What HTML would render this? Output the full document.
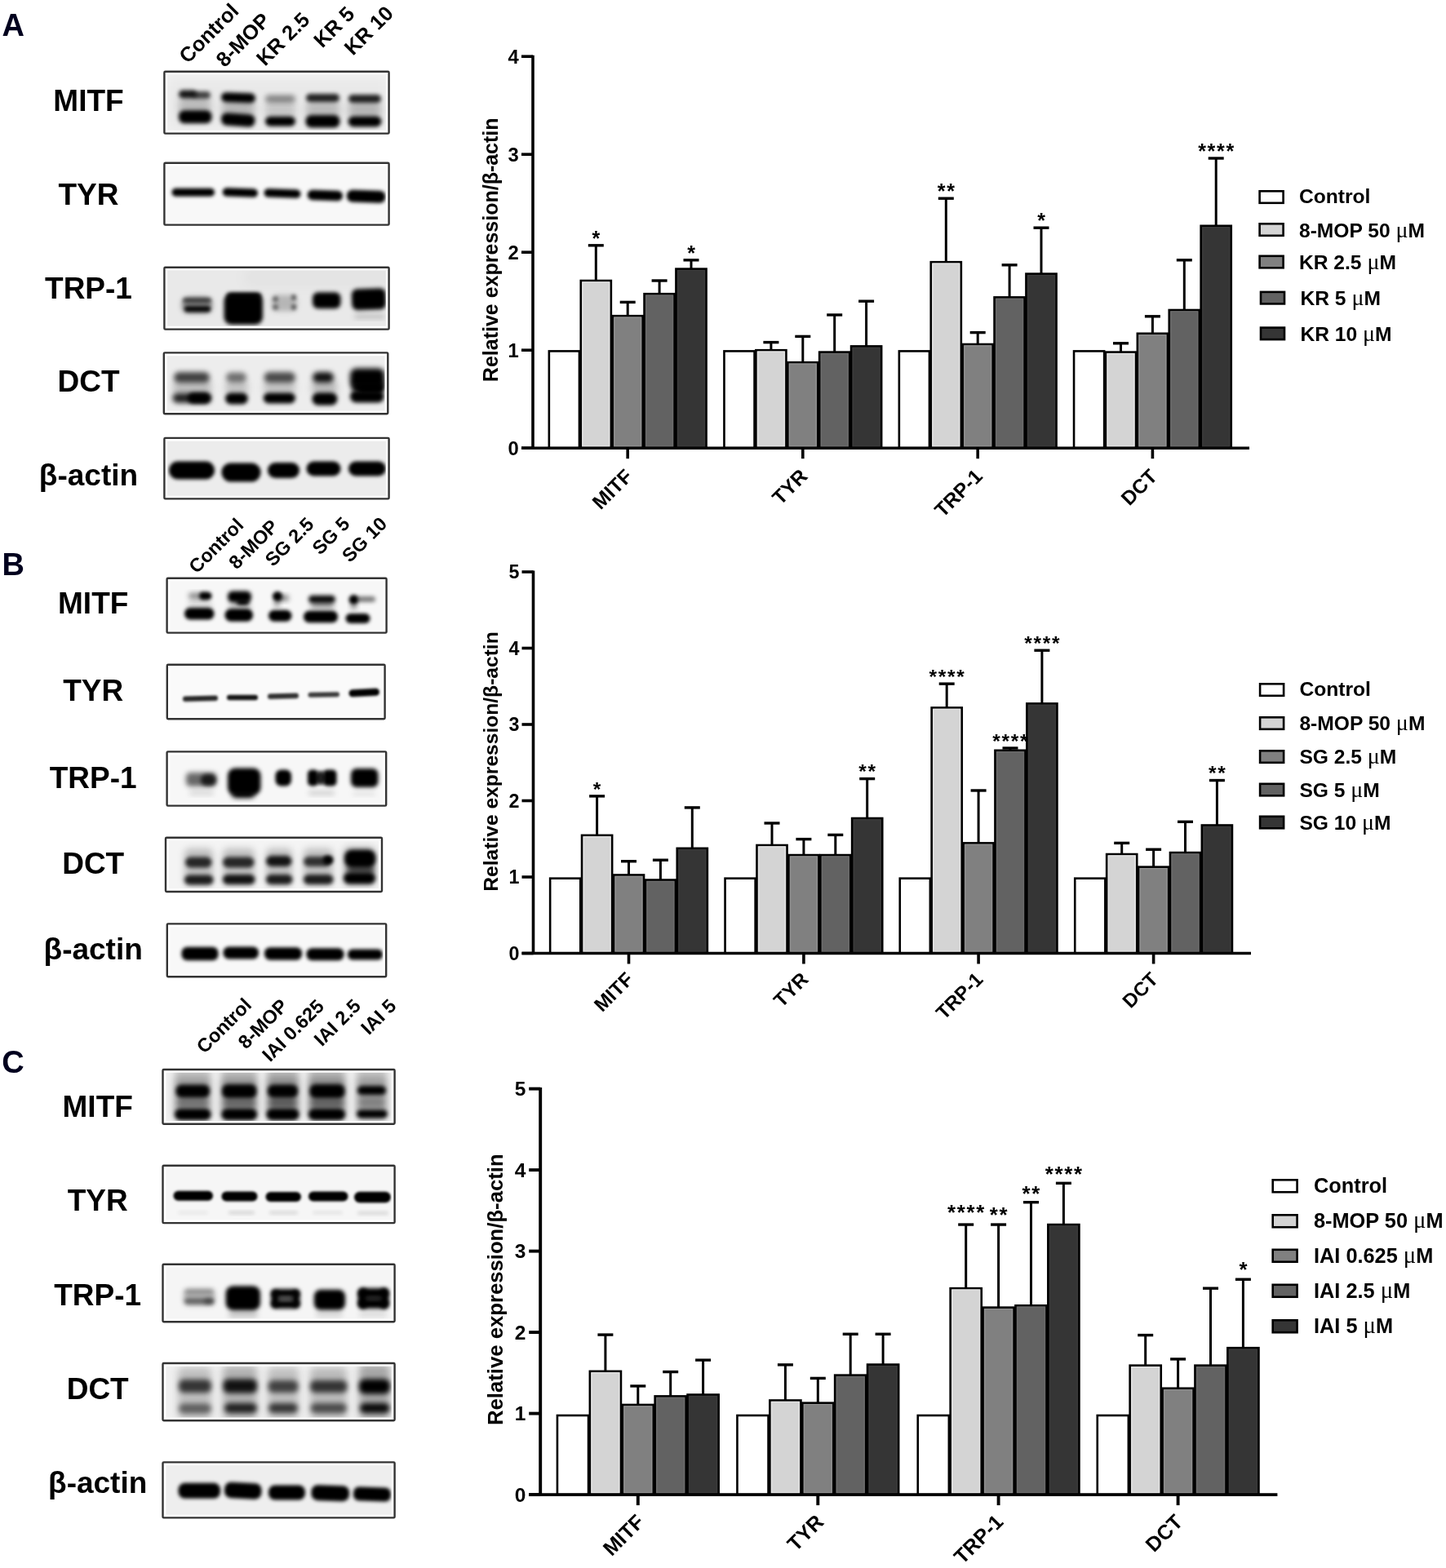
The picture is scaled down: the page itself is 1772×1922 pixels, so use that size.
<!DOCTYPE html><html><head><meta charset="utf-8"><title>figure</title><style>html,body{margin:0;padding:0;background:#fff;}svg{display:block;}text{font-family:"Liberation Sans", Arial, sans-serif;}</style></head><body>
<svg width="1772" height="1922" viewBox="0 0 1772 1922">
<defs>
<filter id="b1_5" x="-60%" y="-60%" width="220%" height="220%"><feGaussianBlur stdDeviation="1.5"/></filter>
<filter id="b1_8" x="-60%" y="-60%" width="220%" height="220%"><feGaussianBlur stdDeviation="1.8"/></filter>
<filter id="b2" x="-60%" y="-60%" width="220%" height="220%"><feGaussianBlur stdDeviation="2"/></filter>
<filter id="b2_2" x="-60%" y="-60%" width="220%" height="220%"><feGaussianBlur stdDeviation="2.2"/></filter>
<filter id="b2_3" x="-60%" y="-60%" width="220%" height="220%"><feGaussianBlur stdDeviation="2.3"/></filter>
<filter id="b2_5" x="-60%" y="-60%" width="220%" height="220%"><feGaussianBlur stdDeviation="2.5"/></filter>
<filter id="b2_8" x="-60%" y="-60%" width="220%" height="220%"><feGaussianBlur stdDeviation="2.8"/></filter>
<filter id="b3" x="-60%" y="-60%" width="220%" height="220%"><feGaussianBlur stdDeviation="3"/></filter>
<filter id="b4" x="-60%" y="-60%" width="220%" height="220%"><feGaussianBlur stdDeviation="4"/></filter>
<filter id="b5" x="-60%" y="-60%" width="220%" height="220%"><feGaussianBlur stdDeviation="5"/></filter>
<filter id="b8" x="-60%" y="-60%" width="220%" height="220%"><feGaussianBlur stdDeviation="8"/></filter>
</defs>
<rect width="1772" height="1922" fill="#fff"/>
<text x="2.4" y="43.9" font-size="38" text-anchor="start" font-weight="bold" fill="#00001e">A</text>
<text x="2.4" y="705.3" font-size="38" text-anchor="start" font-weight="bold" fill="#00001e">B</text>
<text x="2.3" y="1315.4" font-size="38" text-anchor="start" font-weight="bold" fill="#00001e">C</text>
<text x="108.5" y="136.3" font-size="37" text-anchor="middle" font-weight="bold" fill="#000">MITF</text>
<text x="108.5" y="250.6" font-size="37" text-anchor="middle" font-weight="bold" fill="#000">TYR</text>
<text x="108.5" y="366.3" font-size="37" text-anchor="middle" font-weight="bold" fill="#000">TRP-1</text>
<text x="108.5" y="480" font-size="37" text-anchor="middle" font-weight="bold" fill="#000">DCT</text>
<text x="108.5" y="594.9" font-size="37" text-anchor="middle" font-weight="bold" fill="#000">&#946;-actin</text>
<text x="114.2" y="752" font-size="37" text-anchor="middle" font-weight="bold" fill="#000">MITF</text>
<text x="114.2" y="859.3" font-size="37" text-anchor="middle" font-weight="bold" fill="#000">TYR</text>
<text x="114.2" y="965.5" font-size="37" text-anchor="middle" font-weight="bold" fill="#000">TRP-1</text>
<text x="114.2" y="1070.7" font-size="37" text-anchor="middle" font-weight="bold" fill="#000">DCT</text>
<text x="114.2" y="1176" font-size="37" text-anchor="middle" font-weight="bold" fill="#000">&#946;-actin</text>
<text x="119.7" y="1369.4" font-size="37" text-anchor="middle" font-weight="bold" fill="#000">MITF</text>
<text x="119.7" y="1484.3" font-size="37" text-anchor="middle" font-weight="bold" fill="#000">TYR</text>
<text x="119.7" y="1600.4" font-size="37" text-anchor="middle" font-weight="bold" fill="#000">TRP-1</text>
<text x="119.7" y="1714.7" font-size="37" text-anchor="middle" font-weight="bold" fill="#000">DCT</text>
<text x="119.7" y="1830.4" font-size="37" text-anchor="middle" font-weight="bold" fill="#000">&#946;-actin</text>
<text x="230" y="79" font-size="25.5" text-anchor="start" font-weight="bold" fill="#000" transform="rotate(-45 230 79)">Control</text>
<text x="275.3" y="83.5" font-size="25.5" text-anchor="start" font-weight="bold" fill="#000" transform="rotate(-45 275.3 83.5)">8-MOP</text>
<text x="324.8" y="82" font-size="25.5" text-anchor="start" font-weight="bold" fill="#000" transform="rotate(-45 324.8 82)">KR 2.5</text>
<text x="395" y="59.7" font-size="25.5" text-anchor="start" font-weight="bold" fill="#000" transform="rotate(-45 395 59.7)">KR 5</text>
<text x="432.5" y="69" font-size="25.5" text-anchor="start" font-weight="bold" fill="#000" transform="rotate(-45 432.5 69)">KR 10</text>
<text x="241" y="704" font-size="23.4" text-anchor="start" font-weight="bold" fill="#000" transform="rotate(-45 241 704)">Control</text>
<text x="290" y="699" font-size="23.4" text-anchor="start" font-weight="bold" fill="#000" transform="rotate(-45 290 699)">8-MOP</text>
<text x="334.5" y="695.5" font-size="23.4" text-anchor="start" font-weight="bold" fill="#000" transform="rotate(-45 334.5 695.5)">SG 2.5</text>
<text x="392.2" y="681.2" font-size="23.4" text-anchor="start" font-weight="bold" fill="#000" transform="rotate(-45 392.2 681.2)">SG 5</text>
<text x="428.7" y="690.5" font-size="23.4" text-anchor="start" font-weight="bold" fill="#000" transform="rotate(-45 428.7 690.5)">SG 10</text>
<text x="250.5" y="1292.5" font-size="23.5" text-anchor="start" font-weight="bold" fill="#000" transform="rotate(-45 250.5 1292.5)">Control</text>
<text x="301.5" y="1287" font-size="23.5" text-anchor="start" font-weight="bold" fill="#000" transform="rotate(-45 301.5 1287)">8-MOP</text>
<text x="331" y="1302.5" font-size="23.5" text-anchor="start" font-weight="bold" fill="#000" transform="rotate(-45 331 1302.5)">IAI 0.625</text>
<text x="394.5" y="1283.5" font-size="23.5" text-anchor="start" font-weight="bold" fill="#000" transform="rotate(-45 394.5 1283.5)">IAI 2.5</text>
<text x="452" y="1269.5" font-size="23.5" text-anchor="start" font-weight="bold" fill="#000" transform="rotate(-45 452 1269.5)">IAI 5</text>
<g>
<rect x="200.2" y="86.5" width="277.6" height="78.3" fill="#fff"/>
<rect x="205.2" y="91.5" width="267.6" height="68.3" fill="#f1f1f1"/>
<clipPath id="cp1"><rect x="205.2" y="91.5" width="267.6" height="68.3"/></clipPath>
<g clip-path="url(#cp1)">
<rect x="219" y="118" width="39" height="24" rx="6" fill="#000" fill-opacity="0.2" filter="url(#b5)"/>
<rect x="272" y="122" width="40" height="22" rx="6" fill="#000" fill-opacity="0.22" filter="url(#b5)"/>
<rect x="325" y="123" width="37" height="23" rx="6" fill="#000" fill-opacity="0.15" filter="url(#b5)"/>
<rect x="375" y="123" width="41" height="23" rx="6" fill="#000" fill-opacity="0.2" filter="url(#b5)"/>
<rect x="427" y="123" width="40" height="23" rx="6" fill="#000" fill-opacity="0.22" filter="url(#b5)"/>
<rect x="205" y="95" width="270" height="65" rx="6" fill="#000" fill-opacity="0.03" filter="url(#b8)"/>
<rect x="219" y="110.5" width="22" height="10" rx="5" ry="5" fill="#000" fill-opacity="0.9" filter="url(#b2_8)"/>
<rect x="236" y="112" width="22" height="9" rx="4.5" ry="4.5" fill="#000" fill-opacity="0.7" filter="url(#b2_8)"/>
<rect x="271" y="113.7" width="42" height="12" rx="6" ry="6" fill="#000" fill-opacity="1" filter="url(#b2_5)" transform="rotate(2 292 119.7)"/>
<rect x="325" y="116.5" width="37" height="9" rx="4.5" ry="4.5" fill="#000" fill-opacity="0.42" filter="url(#b3)"/>
<rect x="375" y="115" width="41" height="10" rx="5" ry="5" fill="#000" fill-opacity="0.85" filter="url(#b2_8)"/>
<rect x="427" y="116" width="40" height="10" rx="5" ry="5" fill="#000" fill-opacity="0.85" filter="url(#b2_8)"/>
<rect x="219" y="135.2" width="40.5" height="16" rx="7" ry="7" fill="#000" fill-opacity="1" filter="url(#b2_5)"/>
<rect x="271" y="139.25" width="41.5" height="15.5" rx="7" ry="7" fill="#000" fill-opacity="1" filter="url(#b2_5)" transform="rotate(4 291.75 147)"/>
<rect x="325" y="142.7" width="37" height="12" rx="6" ry="6" fill="#000" fill-opacity="1" filter="url(#b2_5)"/>
<rect x="374.5" y="140.95" width="42" height="15.5" rx="7" ry="7" fill="#000" fill-opacity="1" filter="url(#b2_5)"/>
<rect x="426.6" y="142.5" width="40.9" height="13" rx="6.5" ry="6.5" fill="#000" fill-opacity="1" filter="url(#b2_5)"/>
</g>
<rect x="201.4" y="87.7" width="275.2" height="75.9" fill="none" stroke="#333" stroke-width="2.4" rx="1.2"/>
</g>
<g>
<rect x="200.2" y="198.5" width="277.6" height="78.3" fill="#fff"/>
<rect x="205.2" y="203.5" width="267.6" height="68.3" fill="#f8f8f8"/>
<clipPath id="cp2"><rect x="205.2" y="203.5" width="267.6" height="68.3"/></clipPath>
<g clip-path="url(#cp2)">
<rect x="210.5" y="230.7" width="52.5" height="10" rx="5" ry="5" fill="#000" fill-opacity="1" filter="url(#b2)"/>
<rect x="272.7" y="230.75" width="43.3" height="10.5" rx="5.25" ry="5.25" fill="#000" fill-opacity="1" filter="url(#b2)" transform="rotate(2 294.35 236)"/>
<rect x="323.5" y="231.75" width="45" height="10.5" rx="5.25" ry="5.25" fill="#000" fill-opacity="1" filter="url(#b2)" transform="rotate(2 346 237)"/>
<rect x="376.7" y="233.25" width="43.3" height="12.5" rx="6.25" ry="6.25" fill="#000" fill-opacity="1" filter="url(#b2)" transform="rotate(2 398.35 239.5)"/>
<rect x="425" y="233.3" width="47.4" height="15" rx="7" ry="7" fill="#000" fill-opacity="1" filter="url(#b2)" transform="rotate(2 448.7 240.8)"/>
</g>
<rect x="201.4" y="199.7" width="275.2" height="75.9" fill="none" stroke="#333" stroke-width="2.4" rx="1.2"/>
</g>
<g>
<rect x="200.2" y="326.5" width="277.6" height="78.3" fill="#fff"/>
<rect x="205.2" y="331.5" width="267.6" height="68.3" fill="#e9e9e9"/>
<clipPath id="cp3"><rect x="205.2" y="331.5" width="267.6" height="68.3"/></clipPath>
<g clip-path="url(#cp3)">
<rect x="300" y="330" width="180" height="20" rx="6" fill="#000" fill-opacity="0.03" filter="url(#b8)"/>
<rect x="223" y="364" width="37" height="20" rx="8" ry="8" fill="#000" fill-opacity="0.45" filter="url(#b3)"/>
<rect x="224" y="365" width="35" height="6" rx="3" ry="3" fill="#000" fill-opacity="0.55" filter="url(#b2)"/>
<rect x="226" y="375.3" width="32" height="7" rx="3.5" ry="3.5" fill="#000" fill-opacity="0.95" filter="url(#b2)"/>
<rect x="274.5" y="360" width="47.5" height="38" rx="9" ry="9" fill="#000" fill-opacity="1" filter="url(#b2_5)"/>
<rect x="278" y="359" width="42" height="8" rx="4" ry="4" fill="#000" fill-opacity="1" filter="url(#b2_5)"/>
<rect x="333" y="361.5" width="31" height="20" rx="6" ry="6" fill="#000" fill-opacity="0.22" filter="url(#b3)"/>
<rect x="334" y="363" width="7" height="7" rx="3.5" ry="3.5" fill="#000" fill-opacity="0.45" filter="url(#b2)"/>
<rect x="334" y="373" width="7" height="7" rx="3.5" ry="3.5" fill="#000" fill-opacity="0.45" filter="url(#b2)"/>
<rect x="357" y="361" width="6" height="7" rx="3" ry="3.5" fill="#000" fill-opacity="0.55" filter="url(#b2)"/>
<rect x="357" y="373" width="6" height="7" rx="3" ry="3.5" fill="#000" fill-opacity="0.55" filter="url(#b2)"/>
<rect x="383" y="358.3" width="34.5" height="20" rx="7" ry="7" fill="#000" fill-opacity="1" filter="url(#b2_5)"/>
<rect x="431" y="353.7" width="42" height="26" rx="7" ry="7" fill="#000" fill-opacity="1" filter="url(#b2_5)" transform="rotate(-2 452 366.7)"/>
<rect x="434" y="385.5" width="38" height="5" rx="2.5" ry="2.5" fill="#000" fill-opacity="0.2" filter="url(#b3)"/>
</g>
<rect x="201.4" y="327.7" width="275.2" height="75.9" fill="none" stroke="#333" stroke-width="2.4" rx="1.2"/>
</g>
<g>
<rect x="199.6" y="431.2" width="276.9" height="77.3" fill="#fff"/>
<rect x="204.6" y="436.2" width="266.9" height="67.3" fill="#ededed"/>
<clipPath id="cp4"><rect x="204.6" y="436.2" width="266.9" height="67.3"/></clipPath>
<g clip-path="url(#cp4)">
<rect x="212" y="466" width="47" height="18" rx="6" fill="#000" fill-opacity="0.2" filter="url(#b4)"/>
<rect x="276" y="466" width="28" height="18" rx="6" fill="#000" fill-opacity="0.18" filter="url(#b4)"/>
<rect x="323" y="466" width="39" height="18" rx="6" fill="#000" fill-opacity="0.18" filter="url(#b4)"/>
<rect x="382" y="466" width="31" height="18" rx="6" fill="#000" fill-opacity="0.22" filter="url(#b4)"/>
<rect x="213" y="456.1" width="44" height="13" rx="6.5" ry="6.5" fill="#000" fill-opacity="0.72" filter="url(#b3)"/>
<rect x="277" y="456.6" width="25" height="12" rx="6" ry="6" fill="#000" fill-opacity="0.52" filter="url(#b3)"/>
<rect x="323.5" y="456.1" width="38.5" height="13" rx="6.5" ry="6.5" fill="#000" fill-opacity="0.68" filter="url(#b3)"/>
<rect x="383" y="456.1" width="26" height="13" rx="6.5" ry="6.5" fill="#000" fill-opacity="0.92" filter="url(#b3)"/>
<rect x="429" y="451.5" width="42.6" height="24" rx="8" ry="8" fill="#000" fill-opacity="1" filter="url(#b3)"/>
<rect x="211.4" y="482" width="47.4" height="12" rx="6" ry="6" fill="#000" fill-opacity="0.85" filter="url(#b3)"/>
<rect x="230" y="481.5" width="28" height="13" rx="6.5" ry="6.5" fill="#000" fill-opacity="1" filter="url(#b2_5)"/>
<rect x="276" y="481.5" width="27.8" height="14" rx="7" ry="7" fill="#000" fill-opacity="1" filter="url(#b2_5)"/>
<rect x="322.7" y="481.5" width="39.3" height="13" rx="6.5" ry="6.5" fill="#000" fill-opacity="1" filter="url(#b2_5)"/>
<rect x="382.4" y="481.25" width="31.1" height="15.5" rx="7.75" ry="7.75" fill="#000" fill-opacity="1" filter="url(#b2_5)"/>
<rect x="429" y="478.5" width="41.8" height="15" rx="7.5" ry="7.5" fill="#000" fill-opacity="1" filter="url(#b2_5)"/>
<rect x="431" y="467" width="39" height="14" rx="7" ry="7" fill="#000" fill-opacity="1" filter="url(#b3)"/>
<rect x="438" y="470" width="32" height="12" rx="6" ry="6" fill="#000" fill-opacity="1" filter="url(#b2_5)"/>
</g>
<rect x="200.8" y="432.4" width="274.5" height="74.9" fill="none" stroke="#333" stroke-width="2.4" rx="1.2"/>
</g>
<g>
<rect x="200.2" y="535.7" width="277.6" height="76.9" fill="#fff"/>
<rect x="205.2" y="540.7" width="267.6" height="66.9" fill="#ececec"/>
<clipPath id="cp5"><rect x="205.2" y="540.7" width="267.6" height="66.9"/></clipPath>
<g clip-path="url(#cp5)">
<rect x="207" y="565.5" width="56" height="22" rx="11" ry="11" fill="#000" fill-opacity="1" filter="url(#b2)"/>
<rect x="271.5" y="567.5" width="48" height="23" rx="11.5" ry="11.5" fill="#000" fill-opacity="1" filter="url(#b2)"/>
<rect x="328" y="567" width="39" height="19" rx="9.5" ry="9.5" fill="#000" fill-opacity="1" filter="url(#b2)"/>
<rect x="375.5" y="565.5" width="42" height="18" rx="9" ry="9" fill="#000" fill-opacity="1" filter="url(#b2)"/>
<rect x="427" y="565.5" width="46" height="18" rx="9" ry="9" fill="#000" fill-opacity="1" filter="url(#b2)"/>
</g>
<rect x="201.4" y="536.9" width="275.2" height="74.5" fill="none" stroke="#333" stroke-width="2.4" rx="1.2"/>
</g>
<g>
<rect x="203.4" y="707.5" width="271.4" height="69.3" fill="#fff"/>
<rect x="208.4" y="712.5" width="261.4" height="59.3" fill="#f7f7f7"/>
<clipPath id="cp6"><rect x="208.4" y="712.5" width="261.4" height="59.3"/></clipPath>
<g clip-path="url(#cp6)">
<rect x="230" y="736" width="30" height="12" rx="6" fill="#000" fill-opacity="0.12" filter="url(#b3)"/>
<rect x="280" y="738" width="28" height="12" rx="6" fill="#000" fill-opacity="0.2" filter="url(#b3)"/>
<rect x="380" y="739" width="30" height="13" rx="6" fill="#000" fill-opacity="0.15" filter="url(#b3)"/>
<rect x="231" y="726.75" width="19" height="7.5" rx="3.75" ry="3.75" fill="#000" fill-opacity="0.45" filter="url(#b3)"/>
<rect x="244" y="725.5" width="15.5" height="10" rx="5" ry="5" fill="#000" fill-opacity="1" filter="url(#b2_2)"/>
<rect x="279" y="724.5" width="29" height="14" rx="6" ry="6" fill="#000" fill-opacity="1" filter="url(#b2_5)"/>
<rect x="290" y="734.5" width="15" height="7" rx="3.5" ry="3.5" fill="#000" fill-opacity="1" filter="url(#b2_5)"/>
<rect x="334" y="725" width="12" height="12" rx="6" ry="6" fill="#000" fill-opacity="1" filter="url(#b2_2)"/>
<rect x="338" y="729.5" width="16" height="7" rx="3.5" ry="3.5" fill="#000" fill-opacity="0.5" filter="url(#b3)"/>
<rect x="336" y="737" width="7" height="6" rx="3" ry="3" fill="#000" fill-opacity="0.55" filter="url(#b3)"/>
<rect x="378" y="729.75" width="33" height="9.5" rx="4.75" ry="4.75" fill="#000" fill-opacity="0.95" filter="url(#b2_5)"/>
<rect x="381" y="737" width="28" height="6" rx="3" ry="3" fill="#000" fill-opacity="0.4" filter="url(#b3)"/>
<rect x="427.5" y="729" width="12" height="12" rx="6" ry="6" fill="#000" fill-opacity="1" filter="url(#b2_2)"/>
<rect x="437" y="731" width="23" height="7" rx="3.5" ry="3.5" fill="#000" fill-opacity="0.5" filter="url(#b2_5)"/>
<rect x="430" y="740" width="7" height="6" rx="3" ry="3" fill="#000" fill-opacity="0.6" filter="url(#b3)"/>
<rect x="226" y="744.95" width="36.5" height="14.5" rx="7" ry="7" fill="#000" fill-opacity="1" filter="url(#b2_3)"/>
<rect x="275.5" y="746.25" width="34.5" height="15.5" rx="7.5" ry="7.5" fill="#000" fill-opacity="1" filter="url(#b2_3)"/>
<rect x="329" y="747.8" width="28.5" height="14" rx="7" ry="7" fill="#000" fill-opacity="1" filter="url(#b2_3)"/>
<rect x="372" y="748.75" width="42" height="14.5" rx="7" ry="7" fill="#000" fill-opacity="1" filter="url(#b2_3)"/>
<rect x="423.5" y="752" width="30" height="12" rx="6" ry="6" fill="#000" fill-opacity="1" filter="url(#b2_3)"/>
</g>
<rect x="204.6" y="708.7" width="269" height="66.9" fill="none" stroke="#333" stroke-width="2.4" rx="1.2"/>
</g>
<g>
<rect x="203.6" y="813.6" width="269.2" height="68.8" fill="#fff"/>
<rect x="208.6" y="818.6" width="259.2" height="58.8" fill="#fafafa"/>
<clipPath id="cp7"><rect x="208.6" y="818.6" width="259.2" height="58.8"/></clipPath>
<g clip-path="url(#cp7)">
<rect x="224" y="852.95" width="43" height="6.5" rx="3.25" ry="3.25" fill="#000" fill-opacity="0.85" filter="url(#b1_5)" transform="rotate(-1.5 245.5 856.2)"/>
<rect x="278" y="851.75" width="38" height="6.5" rx="3.25" ry="3.25" fill="#000" fill-opacity="0.92" filter="url(#b1_5)"/>
<rect x="328" y="850.05" width="38" height="6.5" rx="3.25" ry="3.25" fill="#000" fill-opacity="0.82" filter="url(#b1_5)" transform="rotate(-1.5 347 853.3)"/>
<rect x="377.5" y="848.4" width="38.5" height="6" rx="3" ry="3" fill="#000" fill-opacity="0.78" filter="url(#b1_5)" transform="rotate(-1 396.75 851.4)"/>
<rect x="427.5" y="844.5" width="37.5" height="9" rx="4.5" ry="4.5" fill="#000" fill-opacity="1" filter="url(#b1_5)" transform="rotate(-3 446.25 849)"/>
</g>
<rect x="204.8" y="814.8" width="266.8" height="66.4" fill="none" stroke="#333" stroke-width="2.4" rx="1.2"/>
</g>
<g>
<rect x="203.4" y="920.2" width="271" height="68.6" fill="#fff"/>
<rect x="208.4" y="925.2" width="261" height="58.6" fill="#f7f7f7"/>
<clipPath id="cp8"><rect x="208.4" y="925.2" width="261" height="58.6"/></clipPath>
<g clip-path="url(#cp8)">
<rect x="228" y="947" width="37" height="17" rx="5" ry="5" fill="#000" fill-opacity="0.58" filter="url(#b3)"/>
<rect x="246" y="949" width="19" height="14" rx="7" ry="7" fill="#000" fill-opacity="0.75" filter="url(#b2_5)"/>
<rect x="279" y="941.5" width="40.5" height="33" rx="9" ry="9" fill="#000" fill-opacity="1" filter="url(#b2_5)"/>
<rect x="284" y="968" width="28" height="10" rx="5" ry="5" fill="#000" fill-opacity="1" filter="url(#b3)"/>
<rect x="337.5" y="943.5" width="19.5" height="20" rx="7" ry="7" fill="#000" fill-opacity="1" filter="url(#b2_2)"/>
<rect x="377" y="943.5" width="13" height="20" rx="5" ry="5" fill="#000" fill-opacity="1" filter="url(#b2_2)"/>
<rect x="396" y="943.5" width="16.5" height="20" rx="5" ry="5" fill="#000" fill-opacity="1" filter="url(#b2_2)"/>
<rect x="386" y="945" width="14" height="17" rx="7" ry="8.5" fill="#000" fill-opacity="0.85" filter="url(#b2_2)"/>
<rect x="430" y="942" width="33.5" height="23" rx="7" ry="7" fill="#000" fill-opacity="1" filter="url(#b2_5)"/>
<rect x="232" y="969.5" width="30" height="5" rx="2.5" ry="2.5" fill="#000" fill-opacity="0.15" filter="url(#b3)"/>
<rect x="378" y="969.5" width="32" height="5" rx="2.5" ry="2.5" fill="#000" fill-opacity="0.18" filter="url(#b3)"/>
<rect x="432" y="971" width="28" height="4" rx="2" ry="2" fill="#000" fill-opacity="0.1" filter="url(#b3)"/>
</g>
<rect x="204.6" y="921.4" width="268.6" height="66.2" fill="none" stroke="#333" stroke-width="2.4" rx="1.2"/>
</g>
<g>
<rect x="201.8" y="1025.6" width="267.4" height="68.6" fill="#fff"/>
<rect x="206.8" y="1030.6" width="257.4" height="58.6" fill="#f4f4f4"/>
<clipPath id="cp9"><rect x="206.8" y="1030.6" width="257.4" height="58.6"/></clipPath>
<g clip-path="url(#cp9)">
<rect x="226" y="1040" width="35" height="46" rx="6" fill="#000" fill-opacity="0.22" filter="url(#b4)"/>
<rect x="273" y="1040" width="39" height="46" rx="6" fill="#000" fill-opacity="0.22" filter="url(#b4)"/>
<rect x="326" y="1040" width="32" height="46" rx="6" fill="#000" fill-opacity="0.22" filter="url(#b4)"/>
<rect x="372" y="1040" width="36" height="46" rx="6" fill="#000" fill-opacity="0.22" filter="url(#b4)"/>
<rect x="421" y="1038" width="39" height="48" rx="6" fill="#000" fill-opacity="0.25" filter="url(#b4)"/>
<rect x="227" y="1050.5" width="32.5" height="13" rx="6.5" ry="6.5" fill="#000" fill-opacity="0.8" filter="url(#b2_8)"/>
<rect x="273" y="1050.5" width="38.5" height="13" rx="6.5" ry="6.5" fill="#000" fill-opacity="0.8" filter="url(#b2_8)"/>
<rect x="326" y="1049" width="31.5" height="13" rx="6.5" ry="6.5" fill="#000" fill-opacity="0.9" filter="url(#b2_8)"/>
<rect x="372" y="1050" width="33" height="12" rx="6" ry="6" fill="#000" fill-opacity="0.75" filter="url(#b2_8)"/>
<rect x="396" y="1048.5" width="12.5" height="11" rx="5.5" ry="5.5" fill="#000" fill-opacity="1" filter="url(#b2_2)"/>
<rect x="422" y="1041.5" width="38.5" height="22" rx="9" ry="9" fill="#000" fill-opacity="1" filter="url(#b2_8)"/>
<rect x="425" y="1060" width="34" height="12" rx="6" ry="6" fill="#000" fill-opacity="0.6" filter="url(#b3)"/>
<rect x="226" y="1072.5" width="35.5" height="12" rx="6" ry="6" fill="#000" fill-opacity="0.85" filter="url(#b2_8)"/>
<rect x="273" y="1072" width="39.5" height="12" rx="6" ry="6" fill="#000" fill-opacity="0.9" filter="url(#b2_8)"/>
<rect x="326" y="1072" width="32.5" height="12" rx="6" ry="6" fill="#000" fill-opacity="0.85" filter="url(#b2_8)"/>
<rect x="372" y="1072" width="36.5" height="12" rx="6" ry="6" fill="#000" fill-opacity="0.85" filter="url(#b2_8)"/>
<rect x="421" y="1069.5" width="39" height="14" rx="7" ry="7" fill="#000" fill-opacity="1" filter="url(#b2_8)"/>
</g>
<rect x="203" y="1026.8" width="265" height="66.2" fill="none" stroke="#333" stroke-width="2.4" rx="1.2"/>
</g>
<g>
<rect x="203.6" y="1131.2" width="270.8" height="67.2" fill="#fff"/>
<rect x="208.6" y="1136.2" width="260.8" height="57.2" fill="#f8f8f8"/>
<clipPath id="cp10"><rect x="208.6" y="1136.2" width="260.8" height="57.2"/></clipPath>
<g clip-path="url(#cp10)">
<rect x="222.5" y="1160.75" width="45" height="16.5" rx="7" ry="7" fill="#000" fill-opacity="1" filter="url(#b2)"/>
<rect x="273.5" y="1160.5" width="43.5" height="15" rx="7" ry="7" fill="#000" fill-opacity="1" filter="url(#b2)"/>
<rect x="324" y="1161.25" width="46" height="15.5" rx="7" ry="7" fill="#000" fill-opacity="1" filter="url(#b2)"/>
<rect x="375.5" y="1162.2" width="46" height="15" rx="7" ry="7" fill="#000" fill-opacity="1" filter="url(#b2)"/>
<rect x="426" y="1163.5" width="43" height="13" rx="6" ry="6" fill="#000" fill-opacity="1" filter="url(#b2)"/>
</g>
<rect x="204.8" y="1132.4" width="268.4" height="64.8" fill="none" stroke="#333" stroke-width="2.4" rx="1.2"/>
</g>
<g>
<rect x="198.3" y="1309.8" width="286.5" height="69.2" fill="#fff"/>
<rect x="203.3" y="1314.8" width="276.5" height="59.2" fill="#f0f0f0"/>
<clipPath id="cp11"><rect x="203.3" y="1314.8" width="276.5" height="59.2"/></clipPath>
<g clip-path="url(#cp11)">
<rect x="214" y="1306" width="44" height="66" rx="6" fill="#000" fill-opacity="0.18" filter="url(#b4)"/>
<rect x="271" y="1306" width="44" height="66" rx="6" fill="#000" fill-opacity="0.2" filter="url(#b4)"/>
<rect x="327" y="1306" width="39" height="66" rx="6" fill="#000" fill-opacity="0.22" filter="url(#b4)"/>
<rect x="378" y="1306" width="45" height="66" rx="6" fill="#000" fill-opacity="0.22" filter="url(#b4)"/>
<rect x="437" y="1306" width="37" height="66" rx="6" fill="#000" fill-opacity="0.18" filter="url(#b4)"/>
<rect x="214" y="1320" width="44" height="52" rx="6" fill="#000" fill-opacity="0.2" filter="url(#b4)"/>
<rect x="271" y="1320" width="44" height="52" rx="6" fill="#000" fill-opacity="0.22" filter="url(#b4)"/>
<rect x="327" y="1320" width="39" height="52" rx="6" fill="#000" fill-opacity="0.24" filter="url(#b4)"/>
<rect x="378" y="1320" width="45" height="52" rx="6" fill="#000" fill-opacity="0.24" filter="url(#b4)"/>
<rect x="437" y="1320" width="37" height="52" rx="6" fill="#000" fill-opacity="0.2" filter="url(#b4)"/>
<rect x="215.5" y="1329.5" width="41.5" height="16" rx="7" ry="7" fill="#000" fill-opacity="1" filter="url(#b2_5)"/>
<rect x="272" y="1329" width="42.5" height="17" rx="7" ry="7" fill="#000" fill-opacity="1" filter="url(#b2_5)"/>
<rect x="328" y="1329.5" width="37" height="16" rx="7" ry="7" fill="#000" fill-opacity="1" filter="url(#b2_5)"/>
<rect x="379.5" y="1329" width="43" height="17" rx="7" ry="7" fill="#000" fill-opacity="1" filter="url(#b2_5)"/>
<rect x="438" y="1331.1" width="35" height="11" rx="5.5" ry="5.5" fill="#000" fill-opacity="1" filter="url(#b2_5)"/>
<rect x="217" y="1345.5" width="38" height="12" rx="6" ry="6" fill="#000" fill-opacity="0.28" filter="url(#b3)"/>
<rect x="274" y="1345.5" width="39" height="12" rx="6" ry="6" fill="#000" fill-opacity="0.32" filter="url(#b3)"/>
<rect x="330" y="1345.5" width="33" height="12" rx="6" ry="6" fill="#000" fill-opacity="0.36" filter="url(#b3)"/>
<rect x="381" y="1345.5" width="40" height="12" rx="6" ry="6" fill="#000" fill-opacity="0.32" filter="url(#b3)"/>
<rect x="440" y="1345" width="31" height="12" rx="6" ry="6" fill="#000" fill-opacity="0.18" filter="url(#b3)"/>
<rect x="214" y="1359" width="44.5" height="14" rx="7" ry="7" fill="#000" fill-opacity="1" filter="url(#b2_5)"/>
<rect x="271.5" y="1359" width="43.5" height="14" rx="7" ry="7" fill="#000" fill-opacity="1" filter="url(#b2_5)"/>
<rect x="326.5" y="1359" width="40" height="14" rx="7" ry="7" fill="#000" fill-opacity="1" filter="url(#b2_5)"/>
<rect x="378" y="1359" width="45" height="14" rx="7" ry="7" fill="#000" fill-opacity="1" filter="url(#b2_5)"/>
<rect x="437.2" y="1360.5" width="37.5" height="10" rx="5" ry="5" fill="#000" fill-opacity="1" filter="url(#b2_5)"/>
</g>
<rect x="199.5" y="1311" width="284.1" height="66.8" fill="none" stroke="#333" stroke-width="2.4" rx="1.2"/>
</g>
<g>
<rect x="198.3" y="1427.6" width="286.5" height="72.7" fill="#fff"/>
<rect x="203.3" y="1432.6" width="276.5" height="62.7" fill="#f6f6f6"/>
<clipPath id="cp12"><rect x="203.3" y="1432.6" width="276.5" height="62.7"/></clipPath>
<g clip-path="url(#cp12)">
<rect x="212.5" y="1459.8" width="48.5" height="12" rx="6" ry="6" fill="#000" fill-opacity="1" filter="url(#b1_8)"/>
<rect x="271.5" y="1460.5" width="44" height="12" rx="6" ry="6" fill="#000" fill-opacity="1" filter="url(#b1_8)"/>
<rect x="325.5" y="1461" width="43.5" height="12" rx="6" ry="6" fill="#000" fill-opacity="1" filter="url(#b1_8)"/>
<rect x="378" y="1460.5" width="48.5" height="12" rx="6" ry="6" fill="#000" fill-opacity="1" filter="url(#b1_8)"/>
<rect x="434" y="1460.75" width="45" height="13.5" rx="6.75" ry="6.75" fill="#000" fill-opacity="1" filter="url(#b1_8)"/>
<rect x="218" y="1484.5" width="37" height="4" rx="2" ry="2" fill="#000" fill-opacity="0.06" filter="url(#b2)"/>
<rect x="280" y="1484.5" width="32" height="4" rx="2" ry="2" fill="#000" fill-opacity="0.14" filter="url(#b2)"/>
<rect x="330" y="1484.5" width="35" height="4" rx="2" ry="2" fill="#000" fill-opacity="0.13" filter="url(#b2)"/>
<rect x="383" y="1484.5" width="37" height="4" rx="2" ry="2" fill="#000" fill-opacity="0.08" filter="url(#b2)"/>
<rect x="438" y="1485" width="38" height="4" rx="2" ry="2" fill="#000" fill-opacity="0.13" filter="url(#b2)"/>
</g>
<rect x="199.5" y="1428.8" width="284.1" height="70.3" fill="none" stroke="#333" stroke-width="2.4" rx="1.2"/>
</g>
<g>
<rect x="198.3" y="1548.6" width="286.5" height="72.8" fill="#fff"/>
<rect x="203.3" y="1553.6" width="276.5" height="62.8" fill="#f5f5f5"/>
<clipPath id="cp13"><rect x="203.3" y="1553.6" width="276.5" height="62.8"/></clipPath>
<g clip-path="url(#cp13)">
<rect x="225" y="1579.5" width="38.3" height="21" rx="6" ry="6" fill="#000" fill-opacity="0.28" filter="url(#b3)"/>
<rect x="226" y="1580" width="36" height="6" rx="3" ry="3" fill="#000" fill-opacity="0.2" filter="url(#b2_5)"/>
<rect x="226" y="1591.5" width="36" height="7" rx="3.5" ry="3.5" fill="#000" fill-opacity="0.45" filter="url(#b2_5)"/>
<rect x="250" y="1591" width="12" height="8" rx="4" ry="4" fill="#000" fill-opacity="0.3" filter="url(#b2_5)"/>
<rect x="276.6" y="1576.2" width="42.4" height="30" rx="9" ry="9" fill="#000" fill-opacity="1" filter="url(#b2_5)"/>
<rect x="332.3" y="1580" width="35" height="10" rx="5" ry="5" fill="#000" fill-opacity="1" filter="url(#b2_5)"/>
<rect x="332.3" y="1594" width="35" height="10" rx="5" ry="5" fill="#000" fill-opacity="1" filter="url(#b2_5)"/>
<rect x="332.3" y="1582" width="9.7" height="20" rx="5" ry="5" fill="#000" fill-opacity="1" filter="url(#b2_5)"/>
<rect x="358" y="1582" width="9.3" height="20" rx="5" ry="5" fill="#000" fill-opacity="1" filter="url(#b2_5)"/>
<rect x="340" y="1588" width="20" height="8" rx="4" ry="4" fill="#000" fill-opacity="0.6" filter="url(#b2_5)"/>
<rect x="384.8" y="1580.8" width="38.3" height="25" rx="8" ry="8" fill="#000" fill-opacity="1" filter="url(#b2_5)"/>
<rect x="438.9" y="1579" width="37.4" height="12" rx="6" ry="6" fill="#000" fill-opacity="1" filter="url(#b2_5)"/>
<rect x="438.9" y="1592" width="37.4" height="12" rx="6" ry="6" fill="#000" fill-opacity="1" filter="url(#b2_5)"/>
<rect x="438.9" y="1579" width="11.1" height="25" rx="6" ry="6" fill="#000" fill-opacity="1" filter="url(#b2_5)"/>
<rect x="466" y="1579" width="10.3" height="25" rx="6" ry="6" fill="#000" fill-opacity="1" filter="url(#b2_5)"/>
<rect x="448" y="1587.5" width="20" height="8" rx="4" ry="4" fill="#000" fill-opacity="0.7" filter="url(#b2_5)"/>
<rect x="280" y="1607" width="36" height="8" rx="4" ry="4" fill="#000" fill-opacity="0.2" filter="url(#b3)"/>
<rect x="387" y="1608" width="33" height="6" rx="3" ry="3" fill="#000" fill-opacity="0.15" filter="url(#b3)"/>
<rect x="440" y="1608" width="34" height="6" rx="3" ry="3" fill="#000" fill-opacity="0.12" filter="url(#b3)"/>
</g>
<rect x="199.5" y="1549.8" width="284.1" height="70.4" fill="none" stroke="#333" stroke-width="2.4" rx="1.2"/>
</g>
<g>
<rect x="198.3" y="1669.8" width="286.5" height="72.6" fill="#fff"/>
<rect x="203.3" y="1674.8" width="276.5" height="62.6" fill="#efefef"/>
<clipPath id="cp14"><rect x="203.3" y="1674.8" width="276.5" height="62.6"/></clipPath>
<g clip-path="url(#cp14)">
<rect x="218" y="1676" width="41" height="64" rx="6" fill="#000" fill-opacity="0.2" filter="url(#b5)"/>
<rect x="273" y="1674" width="42" height="66" rx="6" fill="#000" fill-opacity="0.26" filter="url(#b5)"/>
<rect x="328" y="1676" width="38" height="64" rx="6" fill="#000" fill-opacity="0.2" filter="url(#b5)"/>
<rect x="380" y="1676" width="45" height="64" rx="6" fill="#000" fill-opacity="0.22" filter="url(#b5)"/>
<rect x="440" y="1672" width="38" height="68" rx="6" fill="#000" fill-opacity="0.3" filter="url(#b5)"/>
<rect x="219" y="1691" width="40" height="16" rx="6" ry="6" fill="#000" fill-opacity="0.72" filter="url(#b3)"/>
<rect x="273.5" y="1690.5" width="41.5" height="17" rx="6" ry="6" fill="#000" fill-opacity="0.9" filter="url(#b3)"/>
<rect x="328.5" y="1692" width="37" height="15" rx="6" ry="6" fill="#000" fill-opacity="0.66" filter="url(#b3)"/>
<rect x="380" y="1692" width="45.5" height="15" rx="6" ry="6" fill="#000" fill-opacity="0.72" filter="url(#b3)"/>
<rect x="440" y="1690.5" width="38" height="18" rx="7" ry="7" fill="#000" fill-opacity="1" filter="url(#b3)"/>
<rect x="219" y="1720.5" width="40" height="12" rx="6" ry="6" fill="#000" fill-opacity="0.5" filter="url(#b3)"/>
<rect x="275" y="1720" width="40" height="12" rx="6" ry="6" fill="#000" fill-opacity="0.82" filter="url(#b3)"/>
<rect x="329" y="1720" width="36" height="12" rx="6" ry="6" fill="#000" fill-opacity="0.72" filter="url(#b3)"/>
<rect x="380.5" y="1720" width="44.5" height="12" rx="6" ry="6" fill="#000" fill-opacity="0.6" filter="url(#b3)"/>
<rect x="441" y="1720" width="36.5" height="12" rx="6" ry="6" fill="#000" fill-opacity="0.95" filter="url(#b3)"/>
</g>
<rect x="199.5" y="1671" width="284.1" height="70.2" fill="none" stroke="#333" stroke-width="2.4" rx="1.2"/>
</g>
<g>
<rect x="198.3" y="1791.2" width="286.5" height="70.4" fill="#fff"/>
<rect x="203.3" y="1796.2" width="276.5" height="60.4" fill="#eeeeee"/>
<clipPath id="cp15"><rect x="203.3" y="1796.2" width="276.5" height="60.4"/></clipPath>
<g clip-path="url(#cp15)">
<rect x="218.5" y="1817.8" width="51.5" height="19" rx="8" ry="8" fill="#000" fill-opacity="1" filter="url(#b2)"/>
<rect x="275" y="1817.45" width="45.5" height="19.5" rx="8" ry="8" fill="#000" fill-opacity="1" filter="url(#b2)" transform="rotate(3 297.75 1827.2)"/>
<rect x="329" y="1820.5" width="45" height="18" rx="8" ry="8" fill="#000" fill-opacity="1" filter="url(#b2)"/>
<rect x="381.5" y="1820.7" width="46.5" height="19" rx="8" ry="8" fill="#000" fill-opacity="1" filter="url(#b2)" transform="rotate(2 404.75 1830.2)"/>
<rect x="433" y="1823" width="46" height="17" rx="7" ry="7" fill="#000" fill-opacity="1" filter="url(#b2)" transform="rotate(2 456 1831.5)"/>
</g>
<rect x="199.5" y="1792.4" width="284.1" height="68" fill="none" stroke="#333" stroke-width="2.4" rx="1.2"/>
</g>
<rect x="672.85" y="430.4" width="37.1" height="118.8" fill="#ffffff" stroke="#000" stroke-width="2.6"/>
<rect x="711.75" y="344" width="37.1" height="205.2" fill="#d4d4d4" stroke="#000" stroke-width="2.6"/>
<rect x="714.05" y="345.9" width="32.5" height="200.9" fill="none" stroke="#e6e6e6" stroke-width="1.1"/>
<line x1="730.3" y1="344" x2="730.3" y2="300.8" stroke="#000" stroke-width="3"/>
<line x1="720.8" y1="300.8" x2="739.8" y2="300.8" stroke="#000" stroke-width="3.4"/>
<text x="731.15" y="300.5" font-size="25" text-anchor="middle" font-weight="bold" fill="#000" letter-spacing="1.7">*</text>
<rect x="750.65" y="387.2" width="37.1" height="162" fill="#808080" stroke="#000" stroke-width="2.6"/>
<rect x="752.95" y="389.1" width="32.5" height="157.7" fill="none" stroke="#929292" stroke-width="1.1"/>
<line x1="769.2" y1="387.2" x2="769.2" y2="370.4" stroke="#000" stroke-width="3"/>
<line x1="759.7" y1="370.4" x2="778.7" y2="370.4" stroke="#000" stroke-width="3.4"/>
<rect x="789.55" y="360.2" width="37.1" height="189" fill="#626262" stroke="#000" stroke-width="2.6"/>
<rect x="791.85" y="362.1" width="32.5" height="184.7" fill="none" stroke="#6e6e6e" stroke-width="1.1"/>
<line x1="808.1" y1="360.2" x2="808.1" y2="344" stroke="#000" stroke-width="3"/>
<line x1="798.6" y1="344" x2="817.6" y2="344" stroke="#000" stroke-width="3.4"/>
<rect x="828.45" y="329.6" width="37.1" height="219.6" fill="#353535" stroke="#000" stroke-width="2.6"/>
<rect x="830.75" y="331.5" width="32.5" height="215.3" fill="none" stroke="#3d3d3d" stroke-width="1.1"/>
<line x1="847" y1="329.6" x2="847" y2="318.8" stroke="#000" stroke-width="3"/>
<line x1="837.5" y1="318.8" x2="856.5" y2="318.8" stroke="#000" stroke-width="3.4"/>
<text x="847.85" y="318.5" font-size="25" text-anchor="middle" font-weight="bold" fill="#000" letter-spacing="1.7">*</text>
<rect x="887.45" y="430.4" width="37.1" height="118.8" fill="#ffffff" stroke="#000" stroke-width="2.6"/>
<rect x="926.35" y="429.2" width="37.1" height="120" fill="#d4d4d4" stroke="#000" stroke-width="2.6"/>
<rect x="928.65" y="431.1" width="32.5" height="115.7" fill="none" stroke="#e6e6e6" stroke-width="1.1"/>
<line x1="944.9" y1="429.2" x2="944.9" y2="419.6" stroke="#000" stroke-width="3"/>
<line x1="935.4" y1="419.6" x2="954.4" y2="419.6" stroke="#000" stroke-width="3.4"/>
<rect x="965.25" y="444.2" width="37.1" height="105" fill="#808080" stroke="#000" stroke-width="2.6"/>
<rect x="967.55" y="446.1" width="32.5" height="100.7" fill="none" stroke="#929292" stroke-width="1.1"/>
<line x1="983.8" y1="444.2" x2="983.8" y2="412.4" stroke="#000" stroke-width="3"/>
<line x1="974.3" y1="412.4" x2="993.3" y2="412.4" stroke="#000" stroke-width="3.4"/>
<rect x="1004.15" y="431.6" width="37.1" height="117.6" fill="#626262" stroke="#000" stroke-width="2.6"/>
<rect x="1006.45" y="433.5" width="32.5" height="113.3" fill="none" stroke="#6e6e6e" stroke-width="1.1"/>
<line x1="1022.7" y1="431.6" x2="1022.7" y2="386" stroke="#000" stroke-width="3"/>
<line x1="1013.2" y1="386" x2="1032.2" y2="386" stroke="#000" stroke-width="3.4"/>
<rect x="1043.05" y="424.4" width="37.1" height="124.8" fill="#353535" stroke="#000" stroke-width="2.6"/>
<rect x="1045.35" y="426.3" width="32.5" height="120.5" fill="none" stroke="#3d3d3d" stroke-width="1.1"/>
<line x1="1061.6" y1="424.4" x2="1061.6" y2="369.2" stroke="#000" stroke-width="3"/>
<line x1="1052.1" y1="369.2" x2="1071.1" y2="369.2" stroke="#000" stroke-width="3.4"/>
<rect x="1101.85" y="430.4" width="37.1" height="118.8" fill="#ffffff" stroke="#000" stroke-width="2.6"/>
<rect x="1140.75" y="321.2" width="37.1" height="228" fill="#d4d4d4" stroke="#000" stroke-width="2.6"/>
<rect x="1143.05" y="323.1" width="32.5" height="223.7" fill="none" stroke="#e6e6e6" stroke-width="1.1"/>
<line x1="1159.3" y1="321.2" x2="1159.3" y2="243.2" stroke="#000" stroke-width="3"/>
<line x1="1149.8" y1="243.2" x2="1168.8" y2="243.2" stroke="#000" stroke-width="3.4"/>
<text x="1160.15" y="242.9" font-size="25" text-anchor="middle" font-weight="bold" fill="#000" letter-spacing="1.7">**</text>
<rect x="1179.65" y="422" width="37.1" height="127.2" fill="#808080" stroke="#000" stroke-width="2.6"/>
<rect x="1181.95" y="423.9" width="32.5" height="122.9" fill="none" stroke="#929292" stroke-width="1.1"/>
<line x1="1198.2" y1="422" x2="1198.2" y2="407.6" stroke="#000" stroke-width="3"/>
<line x1="1188.7" y1="407.6" x2="1207.7" y2="407.6" stroke="#000" stroke-width="3.4"/>
<rect x="1218.55" y="364.4" width="37.1" height="184.8" fill="#626262" stroke="#000" stroke-width="2.6"/>
<rect x="1220.85" y="366.3" width="32.5" height="180.5" fill="none" stroke="#6e6e6e" stroke-width="1.1"/>
<line x1="1237.1" y1="364.4" x2="1237.1" y2="324.8" stroke="#000" stroke-width="3"/>
<line x1="1227.6" y1="324.8" x2="1246.6" y2="324.8" stroke="#000" stroke-width="3.4"/>
<rect x="1257.45" y="335.6" width="37.1" height="213.6" fill="#353535" stroke="#000" stroke-width="2.6"/>
<rect x="1259.75" y="337.5" width="32.5" height="209.3" fill="none" stroke="#3d3d3d" stroke-width="1.1"/>
<line x1="1276" y1="335.6" x2="1276" y2="279.2" stroke="#000" stroke-width="3"/>
<line x1="1266.5" y1="279.2" x2="1285.5" y2="279.2" stroke="#000" stroke-width="3.4"/>
<text x="1276.85" y="278.9" font-size="25" text-anchor="middle" font-weight="bold" fill="#000" letter-spacing="1.7">*</text>
<rect x="1316.05" y="430.4" width="37.1" height="118.8" fill="#ffffff" stroke="#000" stroke-width="2.6"/>
<rect x="1354.95" y="431.6" width="37.1" height="117.6" fill="#d4d4d4" stroke="#000" stroke-width="2.6"/>
<rect x="1357.25" y="433.5" width="32.5" height="113.3" fill="none" stroke="#e6e6e6" stroke-width="1.1"/>
<line x1="1373.5" y1="431.6" x2="1373.5" y2="420.8" stroke="#000" stroke-width="3"/>
<line x1="1364" y1="420.8" x2="1383" y2="420.8" stroke="#000" stroke-width="3.4"/>
<rect x="1393.85" y="408.8" width="37.1" height="140.4" fill="#808080" stroke="#000" stroke-width="2.6"/>
<rect x="1396.15" y="410.7" width="32.5" height="136.1" fill="none" stroke="#929292" stroke-width="1.1"/>
<line x1="1412.4" y1="408.8" x2="1412.4" y2="387.8" stroke="#000" stroke-width="3"/>
<line x1="1402.9" y1="387.8" x2="1421.9" y2="387.8" stroke="#000" stroke-width="3.4"/>
<rect x="1432.75" y="380" width="37.1" height="169.2" fill="#626262" stroke="#000" stroke-width="2.6"/>
<rect x="1435.05" y="381.9" width="32.5" height="164.9" fill="none" stroke="#6e6e6e" stroke-width="1.1"/>
<line x1="1451.3" y1="380" x2="1451.3" y2="318.8" stroke="#000" stroke-width="3"/>
<line x1="1441.8" y1="318.8" x2="1460.8" y2="318.8" stroke="#000" stroke-width="3.4"/>
<rect x="1471.65" y="276.8" width="37.1" height="272.4" fill="#353535" stroke="#000" stroke-width="2.6"/>
<rect x="1473.95" y="278.7" width="32.5" height="268.1" fill="none" stroke="#3d3d3d" stroke-width="1.1"/>
<line x1="1490.2" y1="276.8" x2="1490.2" y2="194" stroke="#000" stroke-width="3"/>
<line x1="1480.7" y1="194" x2="1499.7" y2="194" stroke="#000" stroke-width="3.4"/>
<text x="1491.05" y="193.7" font-size="25" text-anchor="middle" font-weight="bold" fill="#000" letter-spacing="1.7">****</text>
<line x1="653" y1="67.7" x2="653" y2="550.7" stroke="#000" stroke-width="3.6"/>
<line x1="639" y1="549.2" x2="1531" y2="549.2" stroke="#000" stroke-width="3.6"/>
<line x1="639" y1="549.2" x2="653" y2="549.2" stroke="#000" stroke-width="3.6"/>
<text x="635.7" y="557.8" font-size="23.8" text-anchor="end" font-weight="bold" fill="#000">0</text>
<line x1="639" y1="429.2" x2="653" y2="429.2" stroke="#000" stroke-width="3.6"/>
<text x="635.7" y="437.8" font-size="23.8" text-anchor="end" font-weight="bold" fill="#000">1</text>
<line x1="639" y1="309.2" x2="653" y2="309.2" stroke="#000" stroke-width="3.6"/>
<text x="635.7" y="317.8" font-size="23.8" text-anchor="end" font-weight="bold" fill="#000">2</text>
<line x1="639" y1="189.2" x2="653" y2="189.2" stroke="#000" stroke-width="3.6"/>
<text x="635.7" y="197.8" font-size="23.8" text-anchor="end" font-weight="bold" fill="#000">3</text>
<line x1="639" y1="69.2" x2="653" y2="69.2" stroke="#000" stroke-width="3.6"/>
<text x="635.7" y="77.8" font-size="23.8" text-anchor="end" font-weight="bold" fill="#000">4</text>
<line x1="769.2" y1="549.2" x2="769.2" y2="562.2" stroke="#000" stroke-width="3.6"/>
<text x="776.5" y="585.3" font-size="24.5" text-anchor="end" font-weight="bold" fill="#000" transform="rotate(-45 776.5 585.3)">MITF</text>
<line x1="983.8" y1="549.2" x2="983.8" y2="562.2" stroke="#000" stroke-width="3.6"/>
<text x="991.1" y="585.3" font-size="24.5" text-anchor="end" font-weight="bold" fill="#000" transform="rotate(-45 991.1 585.3)">TYR</text>
<line x1="1198.2" y1="549.2" x2="1198.2" y2="562.2" stroke="#000" stroke-width="3.6"/>
<text x="1205.5" y="585.3" font-size="24.5" text-anchor="end" font-weight="bold" fill="#000" transform="rotate(-45 1205.5 585.3)">TRP-1</text>
<line x1="1412.4" y1="549.2" x2="1412.4" y2="562.2" stroke="#000" stroke-width="3.6"/>
<text x="1419.7" y="585.3" font-size="24.5" text-anchor="end" font-weight="bold" fill="#000" transform="rotate(-45 1419.7 585.3)">DCT</text>
<text x="610.5" y="306.3" font-size="25" text-anchor="middle" font-weight="bold" fill="#000" transform="rotate(-90 610.5 306.3)">Relative expression/&#946;-actin</text>
<rect x="1543.6" y="234.3" width="29" height="14.5" fill="#ffffff" stroke="#000" stroke-width="2.6"/>
<text x="1592" y="249.4" font-size="24.6" font-weight="bold">Control</text>
<rect x="1543.6" y="274.3" width="29" height="14.5" fill="#d4d4d4" stroke="#000" stroke-width="2.6"/>
<text x="1592" y="291" font-size="24.6" font-weight="bold">8-MOP 50 <tspan font-family="'Liberation Serif', serif" font-weight="normal" font-size="28">&#956;</tspan>M</text>
<rect x="1543.6" y="313.8" width="29" height="14.5" fill="#808080" stroke="#000" stroke-width="2.6"/>
<text x="1592" y="330" font-size="24.6" font-weight="bold">KR 2.5 <tspan font-family="'Liberation Serif', serif" font-weight="normal" font-size="28">&#956;</tspan>M</text>
<rect x="1545" y="357.9" width="29" height="14.5" fill="#626262" stroke="#000" stroke-width="2.6"/>
<text x="1593.5" y="374.3" font-size="24.6" font-weight="bold">KR 5 <tspan font-family="'Liberation Serif', serif" font-weight="normal" font-size="28">&#956;</tspan>M</text>
<rect x="1545" y="401.6" width="29" height="14.5" fill="#353535" stroke="#000" stroke-width="2.6"/>
<text x="1593.5" y="418" font-size="24.6" font-weight="bold">KR 10 <tspan font-family="'Liberation Serif', serif" font-weight="normal" font-size="28">&#956;</tspan>M</text>
<rect x="674.15" y="1076.68" width="37.1" height="91.82" fill="#ffffff" stroke="#000" stroke-width="2.6"/>
<rect x="713.05" y="1023.86" width="37.1" height="144.64" fill="#d4d4d4" stroke="#000" stroke-width="2.6"/>
<rect x="715.35" y="1025.76" width="32.5" height="140.34" fill="none" stroke="#e6e6e6" stroke-width="1.1"/>
<line x1="731.6" y1="1023.86" x2="731.6" y2="975.89" stroke="#000" stroke-width="3"/>
<line x1="722.1" y1="975.89" x2="741.1" y2="975.89" stroke="#000" stroke-width="3.4"/>
<text x="732.45" y="975.59" font-size="24.5" text-anchor="middle" font-weight="bold" fill="#000" letter-spacing="1.7">*</text>
<rect x="751.95" y="1072.48" width="37.1" height="96.02" fill="#808080" stroke="#000" stroke-width="2.6"/>
<rect x="754.25" y="1074.38" width="32.5" height="91.72" fill="none" stroke="#929292" stroke-width="1.1"/>
<line x1="770.5" y1="1072.48" x2="770.5" y2="1055.74" stroke="#000" stroke-width="3"/>
<line x1="761" y1="1055.74" x2="780" y2="1055.74" stroke="#000" stroke-width="3.4"/>
<rect x="790.85" y="1078.55" width="37.1" height="89.95" fill="#626262" stroke="#000" stroke-width="2.6"/>
<rect x="793.15" y="1080.45" width="32.5" height="85.65" fill="none" stroke="#6e6e6e" stroke-width="1.1"/>
<line x1="809.4" y1="1078.55" x2="809.4" y2="1054.24" stroke="#000" stroke-width="3"/>
<line x1="799.9" y1="1054.24" x2="818.9" y2="1054.24" stroke="#000" stroke-width="3.4"/>
<rect x="829.75" y="1039.84" width="37.1" height="128.66" fill="#353535" stroke="#000" stroke-width="2.6"/>
<rect x="832.05" y="1041.74" width="32.5" height="124.36" fill="none" stroke="#3d3d3d" stroke-width="1.1"/>
<line x1="848.3" y1="1039.84" x2="848.3" y2="989.91" stroke="#000" stroke-width="3"/>
<line x1="838.8" y1="989.91" x2="857.8" y2="989.91" stroke="#000" stroke-width="3.4"/>
<rect x="888.55" y="1076.68" width="37.1" height="91.82" fill="#ffffff" stroke="#000" stroke-width="2.6"/>
<rect x="927.45" y="1036.01" width="37.1" height="132.49" fill="#d4d4d4" stroke="#000" stroke-width="2.6"/>
<rect x="929.75" y="1037.91" width="32.5" height="128.19" fill="none" stroke="#e6e6e6" stroke-width="1.1"/>
<line x1="946" y1="1036.01" x2="946" y2="1008.99" stroke="#000" stroke-width="3"/>
<line x1="936.5" y1="1008.99" x2="955.5" y2="1008.99" stroke="#000" stroke-width="3.4"/>
<rect x="966.35" y="1048.07" width="37.1" height="120.43" fill="#808080" stroke="#000" stroke-width="2.6"/>
<rect x="968.65" y="1049.97" width="32.5" height="116.13" fill="none" stroke="#929292" stroke-width="1.1"/>
<line x1="984.9" y1="1048.07" x2="984.9" y2="1028.62" stroke="#000" stroke-width="3"/>
<line x1="975.4" y1="1028.62" x2="994.4" y2="1028.62" stroke="#000" stroke-width="3.4"/>
<rect x="1005.25" y="1048.07" width="37.1" height="120.43" fill="#626262" stroke="#000" stroke-width="2.6"/>
<rect x="1007.55" y="1049.97" width="32.5" height="116.13" fill="none" stroke="#6e6e6e" stroke-width="1.1"/>
<line x1="1023.8" y1="1048.07" x2="1023.8" y2="1023.39" stroke="#000" stroke-width="3"/>
<line x1="1014.3" y1="1023.39" x2="1033.3" y2="1023.39" stroke="#000" stroke-width="3.4"/>
<rect x="1044.15" y="1003" width="37.1" height="165.5" fill="#353535" stroke="#000" stroke-width="2.6"/>
<rect x="1046.45" y="1004.9" width="32.5" height="161.19" fill="none" stroke="#3d3d3d" stroke-width="1.1"/>
<line x1="1062.7" y1="1003" x2="1062.7" y2="954.57" stroke="#000" stroke-width="3"/>
<line x1="1053.2" y1="954.57" x2="1072.2" y2="954.57" stroke="#000" stroke-width="3.4"/>
<text x="1063.55" y="954.27" font-size="24.5" text-anchor="middle" font-weight="bold" fill="#000" letter-spacing="1.7">**</text>
<rect x="1102.75" y="1076.68" width="37.1" height="91.82" fill="#ffffff" stroke="#000" stroke-width="2.6"/>
<rect x="1141.65" y="867.43" width="37.1" height="301.07" fill="#d4d4d4" stroke="#000" stroke-width="2.6"/>
<rect x="1143.95" y="869.33" width="32.5" height="296.77" fill="none" stroke="#e6e6e6" stroke-width="1.1"/>
<line x1="1160.2" y1="867.43" x2="1160.2" y2="838.16" stroke="#000" stroke-width="3"/>
<line x1="1150.7" y1="838.16" x2="1169.7" y2="838.16" stroke="#000" stroke-width="3.4"/>
<text x="1161.05" y="837.86" font-size="24.5" text-anchor="middle" font-weight="bold" fill="#000" letter-spacing="1.7">****</text>
<rect x="1180.55" y="1033.39" width="37.1" height="135.11" fill="#808080" stroke="#000" stroke-width="2.6"/>
<rect x="1182.85" y="1035.29" width="32.5" height="130.81" fill="none" stroke="#929292" stroke-width="1.1"/>
<line x1="1199.1" y1="1033.39" x2="1199.1" y2="968.97" stroke="#000" stroke-width="3"/>
<line x1="1189.6" y1="968.97" x2="1208.6" y2="968.97" stroke="#000" stroke-width="3.4"/>
<rect x="1219.45" y="919.79" width="37.1" height="248.71" fill="#626262" stroke="#000" stroke-width="2.6"/>
<rect x="1221.75" y="921.69" width="32.5" height="244.41" fill="none" stroke="#6e6e6e" stroke-width="1.1"/>
<line x1="1238" y1="919.79" x2="1238" y2="916.99" stroke="#000" stroke-width="3"/>
<line x1="1228.5" y1="916.99" x2="1247.5" y2="916.99" stroke="#000" stroke-width="3.4"/>
<text x="1238.85" y="916.69" font-size="24.5" text-anchor="middle" font-weight="bold" fill="#000" letter-spacing="1.7">****</text>
<rect x="1258.35" y="862.38" width="37.1" height="306.12" fill="#353535" stroke="#000" stroke-width="2.6"/>
<rect x="1260.65" y="864.28" width="32.5" height="301.82" fill="none" stroke="#3d3d3d" stroke-width="1.1"/>
<line x1="1276.9" y1="862.38" x2="1276.9" y2="797.21" stroke="#000" stroke-width="3"/>
<line x1="1267.4" y1="797.21" x2="1286.4" y2="797.21" stroke="#000" stroke-width="3.4"/>
<text x="1277.75" y="796.91" font-size="24.5" text-anchor="middle" font-weight="bold" fill="#000" letter-spacing="1.7">****</text>
<rect x="1317.25" y="1076.68" width="37.1" height="91.82" fill="#ffffff" stroke="#000" stroke-width="2.6"/>
<rect x="1356.15" y="1047.04" width="37.1" height="121.46" fill="#d4d4d4" stroke="#000" stroke-width="2.6"/>
<rect x="1358.45" y="1048.94" width="32.5" height="117.16" fill="none" stroke="#e6e6e6" stroke-width="1.1"/>
<line x1="1374.7" y1="1047.04" x2="1374.7" y2="1033.39" stroke="#000" stroke-width="3"/>
<line x1="1365.2" y1="1033.39" x2="1384.2" y2="1033.39" stroke="#000" stroke-width="3.4"/>
<rect x="1395.05" y="1062.66" width="37.1" height="105.84" fill="#808080" stroke="#000" stroke-width="2.6"/>
<rect x="1397.35" y="1064.56" width="32.5" height="101.54" fill="none" stroke="#929292" stroke-width="1.1"/>
<line x1="1413.6" y1="1062.66" x2="1413.6" y2="1041.25" stroke="#000" stroke-width="3"/>
<line x1="1404.1" y1="1041.25" x2="1423.1" y2="1041.25" stroke="#000" stroke-width="3.4"/>
<rect x="1433.95" y="1045.08" width="37.1" height="123.42" fill="#626262" stroke="#000" stroke-width="2.6"/>
<rect x="1436.25" y="1046.98" width="32.5" height="119.12" fill="none" stroke="#6e6e6e" stroke-width="1.1"/>
<line x1="1452.5" y1="1045.08" x2="1452.5" y2="1007.31" stroke="#000" stroke-width="3"/>
<line x1="1443" y1="1007.31" x2="1462" y2="1007.31" stroke="#000" stroke-width="3.4"/>
<rect x="1472.85" y="1011.51" width="37.1" height="156.99" fill="#353535" stroke="#000" stroke-width="2.6"/>
<rect x="1475.15" y="1013.41" width="32.5" height="152.69" fill="none" stroke="#3d3d3d" stroke-width="1.1"/>
<line x1="1491.4" y1="1011.51" x2="1491.4" y2="956.54" stroke="#000" stroke-width="3"/>
<line x1="1481.9" y1="956.54" x2="1500.9" y2="956.54" stroke="#000" stroke-width="3.4"/>
<text x="1492.25" y="956.24" font-size="24.5" text-anchor="middle" font-weight="bold" fill="#000" letter-spacing="1.7">**</text>
<line x1="653.5" y1="699.5" x2="653.5" y2="1170" stroke="#000" stroke-width="3.6"/>
<line x1="639.5" y1="1168.5" x2="1533" y2="1168.5" stroke="#000" stroke-width="3.6"/>
<line x1="639.5" y1="1168.5" x2="653.5" y2="1168.5" stroke="#000" stroke-width="3.6"/>
<text x="636.55" y="1176.93" font-size="23.32" text-anchor="end" font-weight="bold" fill="#000">0</text>
<line x1="639.5" y1="1075" x2="653.5" y2="1075" stroke="#000" stroke-width="3.6"/>
<text x="636.55" y="1083.43" font-size="23.32" text-anchor="end" font-weight="bold" fill="#000">1</text>
<line x1="639.5" y1="981.5" x2="653.5" y2="981.5" stroke="#000" stroke-width="3.6"/>
<text x="636.55" y="989.93" font-size="23.32" text-anchor="end" font-weight="bold" fill="#000">2</text>
<line x1="639.5" y1="888" x2="653.5" y2="888" stroke="#000" stroke-width="3.6"/>
<text x="636.55" y="896.43" font-size="23.32" text-anchor="end" font-weight="bold" fill="#000">3</text>
<line x1="639.5" y1="794.5" x2="653.5" y2="794.5" stroke="#000" stroke-width="3.6"/>
<text x="636.55" y="802.93" font-size="23.32" text-anchor="end" font-weight="bold" fill="#000">4</text>
<line x1="639.5" y1="701" x2="653.5" y2="701" stroke="#000" stroke-width="3.6"/>
<text x="636.55" y="709.43" font-size="23.32" text-anchor="end" font-weight="bold" fill="#000">5</text>
<line x1="770.5" y1="1168.5" x2="770.5" y2="1181.5" stroke="#000" stroke-width="3.6"/>
<text x="777.5" y="1202" font-size="24.01" text-anchor="end" font-weight="bold" fill="#000" transform="rotate(-45 777.5 1202)">MITF</text>
<line x1="984.9" y1="1168.5" x2="984.9" y2="1181.5" stroke="#000" stroke-width="3.6"/>
<text x="992" y="1202" font-size="24.01" text-anchor="end" font-weight="bold" fill="#000" transform="rotate(-45 992 1202)">TYR</text>
<line x1="1199.1" y1="1168.5" x2="1199.1" y2="1181.5" stroke="#000" stroke-width="3.6"/>
<text x="1206" y="1202" font-size="24.01" text-anchor="end" font-weight="bold" fill="#000" transform="rotate(-45 1206 1202)">TRP-1</text>
<line x1="1413.6" y1="1168.5" x2="1413.6" y2="1181.5" stroke="#000" stroke-width="3.6"/>
<text x="1420.5" y="1202" font-size="24.01" text-anchor="end" font-weight="bold" fill="#000" transform="rotate(-45 1420.5 1202)">DCT</text>
<text x="609.5" y="933.5" font-size="24.6" text-anchor="middle" font-weight="bold" fill="#000" transform="rotate(-90 609.5 933.5)">Relative expression/&#946;-actin</text>
<rect x="1544.1" y="838.3" width="29" height="14.5" fill="#ffffff" stroke="#000" stroke-width="2.6"/>
<text x="1592.4" y="853" font-size="24.6" font-weight="bold">Control</text>
<rect x="1544.1" y="879.3" width="29" height="14.5" fill="#d4d4d4" stroke="#000" stroke-width="2.6"/>
<text x="1592.4" y="895" font-size="24.6" font-weight="bold">8-MOP 50 <tspan font-family="'Liberation Serif', serif" font-weight="normal" font-size="28">&#956;</tspan>M</text>
<rect x="1544.1" y="920.3" width="29" height="14.5" fill="#808080" stroke="#000" stroke-width="2.6"/>
<text x="1592.4" y="936" font-size="24.6" font-weight="bold">SG 2.5 <tspan font-family="'Liberation Serif', serif" font-weight="normal" font-size="28">&#956;</tspan>M</text>
<rect x="1544.1" y="960.8" width="29" height="14.5" fill="#626262" stroke="#000" stroke-width="2.6"/>
<text x="1592.4" y="976.5" font-size="24.6" font-weight="bold">SG 5 <tspan font-family="'Liberation Serif', serif" font-weight="normal" font-size="28">&#956;</tspan>M</text>
<rect x="1544.1" y="1000.8" width="29" height="14.5" fill="#353535" stroke="#000" stroke-width="2.6"/>
<text x="1592.4" y="1016.5" font-size="24.6" font-weight="bold">SG 10 <tspan font-family="'Liberation Serif', serif" font-weight="normal" font-size="28">&#956;</tspan>M</text>
<rect x="682.95" y="1734.99" width="38.1" height="97.11" fill="#ffffff" stroke="#000" stroke-width="2.6"/>
<rect x="722.85" y="1680.86" width="38.1" height="151.24" fill="#d4d4d4" stroke="#000" stroke-width="2.6"/>
<rect x="725.15" y="1682.76" width="33.5" height="146.94" fill="none" stroke="#e6e6e6" stroke-width="1.1"/>
<line x1="741.9" y1="1680.86" x2="741.9" y2="1636.09" stroke="#000" stroke-width="3"/>
<line x1="732.4" y1="1636.09" x2="751.4" y2="1636.09" stroke="#000" stroke-width="3.4"/>
<rect x="762.75" y="1721.95" width="38.1" height="110.15" fill="#808080" stroke="#000" stroke-width="2.6"/>
<rect x="765.05" y="1723.85" width="33.5" height="105.85" fill="none" stroke="#929292" stroke-width="1.1"/>
<line x1="781.8" y1="1721.95" x2="781.8" y2="1698.97" stroke="#000" stroke-width="3"/>
<line x1="772.3" y1="1698.97" x2="791.3" y2="1698.97" stroke="#000" stroke-width="3.4"/>
<rect x="802.65" y="1711.41" width="38.1" height="120.69" fill="#626262" stroke="#000" stroke-width="2.6"/>
<rect x="804.95" y="1713.31" width="33.5" height="116.39" fill="none" stroke="#6e6e6e" stroke-width="1.1"/>
<line x1="821.7" y1="1711.41" x2="821.7" y2="1681.56" stroke="#000" stroke-width="3"/>
<line x1="812.2" y1="1681.56" x2="831.2" y2="1681.56" stroke="#000" stroke-width="3.4"/>
<rect x="842.55" y="1709.52" width="38.1" height="122.58" fill="#353535" stroke="#000" stroke-width="2.6"/>
<rect x="844.85" y="1711.42" width="33.5" height="118.28" fill="none" stroke="#3d3d3d" stroke-width="1.1"/>
<line x1="861.6" y1="1709.52" x2="861.6" y2="1667.13" stroke="#000" stroke-width="3"/>
<line x1="852.1" y1="1667.13" x2="871.1" y2="1667.13" stroke="#000" stroke-width="3.4"/>
<rect x="903.45" y="1734.99" width="38.1" height="97.11" fill="#ffffff" stroke="#000" stroke-width="2.6"/>
<rect x="943.35" y="1716.48" width="38.1" height="115.62" fill="#d4d4d4" stroke="#000" stroke-width="2.6"/>
<rect x="945.65" y="1718.38" width="33.5" height="111.32" fill="none" stroke="#e6e6e6" stroke-width="1.1"/>
<line x1="962.4" y1="1716.48" x2="962.4" y2="1672.9" stroke="#000" stroke-width="3"/>
<line x1="952.9" y1="1672.9" x2="971.9" y2="1672.9" stroke="#000" stroke-width="3.4"/>
<rect x="983.25" y="1719.66" width="38.1" height="112.43" fill="#808080" stroke="#000" stroke-width="2.6"/>
<rect x="985.55" y="1721.57" width="33.5" height="108.13" fill="none" stroke="#929292" stroke-width="1.1"/>
<line x1="1002.3" y1="1719.66" x2="1002.3" y2="1689.42" stroke="#000" stroke-width="3"/>
<line x1="992.8" y1="1689.42" x2="1011.8" y2="1689.42" stroke="#000" stroke-width="3.4"/>
<rect x="1023.15" y="1685.64" width="38.1" height="146.46" fill="#626262" stroke="#000" stroke-width="2.6"/>
<rect x="1025.45" y="1687.54" width="33.5" height="142.16" fill="none" stroke="#6e6e6e" stroke-width="1.1"/>
<line x1="1042.2" y1="1685.64" x2="1042.2" y2="1635.29" stroke="#000" stroke-width="3"/>
<line x1="1032.7" y1="1635.29" x2="1051.7" y2="1635.29" stroke="#000" stroke-width="3.4"/>
<rect x="1063.05" y="1672.6" width="38.1" height="159.5" fill="#353535" stroke="#000" stroke-width="2.6"/>
<rect x="1065.35" y="1674.5" width="33.5" height="155.2" fill="none" stroke="#3d3d3d" stroke-width="1.1"/>
<line x1="1082.1" y1="1672.6" x2="1082.1" y2="1635.29" stroke="#000" stroke-width="3"/>
<line x1="1072.6" y1="1635.29" x2="1091.6" y2="1635.29" stroke="#000" stroke-width="3.4"/>
<rect x="1124.75" y="1734.99" width="38.1" height="97.11" fill="#ffffff" stroke="#000" stroke-width="2.6"/>
<rect x="1164.65" y="1579.17" width="38.1" height="252.93" fill="#d4d4d4" stroke="#000" stroke-width="2.6"/>
<rect x="1166.95" y="1581.07" width="33.5" height="248.63" fill="none" stroke="#e6e6e6" stroke-width="1.1"/>
<line x1="1183.7" y1="1579.17" x2="1183.7" y2="1501.06" stroke="#000" stroke-width="3"/>
<line x1="1174.2" y1="1501.06" x2="1193.2" y2="1501.06" stroke="#000" stroke-width="3.4"/>
<text x="1184.55" y="1495.06" font-size="25.75" text-anchor="middle" font-weight="bold" fill="#000" letter-spacing="1.7">****</text>
<rect x="1204.55" y="1602.65" width="38.1" height="229.45" fill="#808080" stroke="#000" stroke-width="2.6"/>
<rect x="1206.85" y="1604.55" width="33.5" height="225.15" fill="none" stroke="#929292" stroke-width="1.1"/>
<line x1="1223.6" y1="1602.65" x2="1223.6" y2="1501.06" stroke="#000" stroke-width="3"/>
<line x1="1214.1" y1="1501.06" x2="1233.1" y2="1501.06" stroke="#000" stroke-width="3.4"/>
<text x="1224.45" y="1498.06" font-size="25.75" text-anchor="middle" font-weight="bold" fill="#000" letter-spacing="1.7">**</text>
<rect x="1244.45" y="1600.26" width="38.1" height="231.84" fill="#626262" stroke="#000" stroke-width="2.6"/>
<rect x="1246.75" y="1602.16" width="33.5" height="227.54" fill="none" stroke="#6e6e6e" stroke-width="1.1"/>
<line x1="1263.5" y1="1600.26" x2="1263.5" y2="1473.7" stroke="#000" stroke-width="3"/>
<line x1="1254" y1="1473.7" x2="1273" y2="1473.7" stroke="#000" stroke-width="3.4"/>
<text x="1264.35" y="1471.7" font-size="25.75" text-anchor="middle" font-weight="bold" fill="#000" letter-spacing="1.7">**</text>
<rect x="1284.35" y="1501.06" width="38.1" height="331.04" fill="#353535" stroke="#000" stroke-width="2.6"/>
<rect x="1286.65" y="1502.96" width="33.5" height="326.74" fill="none" stroke="#3d3d3d" stroke-width="1.1"/>
<line x1="1303.4" y1="1501.06" x2="1303.4" y2="1450.32" stroke="#000" stroke-width="3"/>
<line x1="1293.9" y1="1450.32" x2="1312.9" y2="1450.32" stroke="#000" stroke-width="3.4"/>
<text x="1304.25" y="1447.82" font-size="25.75" text-anchor="middle" font-weight="bold" fill="#000" letter-spacing="1.7">****</text>
<rect x="1344.75" y="1734.99" width="38.1" height="97.11" fill="#ffffff" stroke="#000" stroke-width="2.6"/>
<rect x="1384.65" y="1673.7" width="38.1" height="158.4" fill="#d4d4d4" stroke="#000" stroke-width="2.6"/>
<rect x="1386.95" y="1675.6" width="33.5" height="154.1" fill="none" stroke="#e6e6e6" stroke-width="1.1"/>
<line x1="1403.7" y1="1673.7" x2="1403.7" y2="1636.58" stroke="#000" stroke-width="3"/>
<line x1="1394.2" y1="1636.58" x2="1413.2" y2="1636.58" stroke="#000" stroke-width="3.4"/>
<rect x="1424.55" y="1701.75" width="38.1" height="130.35" fill="#808080" stroke="#000" stroke-width="2.6"/>
<rect x="1426.85" y="1703.65" width="33.5" height="126.05" fill="none" stroke="#929292" stroke-width="1.1"/>
<line x1="1443.6" y1="1701.75" x2="1443.6" y2="1665.93" stroke="#000" stroke-width="3"/>
<line x1="1434.1" y1="1665.93" x2="1453.1" y2="1665.93" stroke="#000" stroke-width="3.4"/>
<rect x="1464.45" y="1673.7" width="38.1" height="158.4" fill="#626262" stroke="#000" stroke-width="2.6"/>
<rect x="1466.75" y="1675.6" width="33.5" height="154.1" fill="none" stroke="#6e6e6e" stroke-width="1.1"/>
<line x1="1483.5" y1="1673.7" x2="1483.5" y2="1579.17" stroke="#000" stroke-width="3"/>
<line x1="1474" y1="1579.17" x2="1493" y2="1579.17" stroke="#000" stroke-width="3.4"/>
<rect x="1504.35" y="1652.2" width="38.1" height="179.9" fill="#353535" stroke="#000" stroke-width="2.6"/>
<rect x="1506.65" y="1654.1" width="33.5" height="175.6" fill="none" stroke="#3d3d3d" stroke-width="1.1"/>
<line x1="1523.4" y1="1652.2" x2="1523.4" y2="1568.23" stroke="#000" stroke-width="3"/>
<line x1="1513.9" y1="1568.23" x2="1532.9" y2="1568.23" stroke="#000" stroke-width="3.4"/>
<text x="1524.25" y="1565.23" font-size="25.75" text-anchor="middle" font-weight="bold" fill="#000" letter-spacing="1.7">*</text>
<line x1="662.2" y1="1333.1" x2="662.2" y2="1833.6" stroke="#000" stroke-width="3.9"/>
<line x1="648.2" y1="1832.1" x2="1565.4" y2="1832.1" stroke="#000" stroke-width="3.9"/>
<line x1="648.2" y1="1832.1" x2="662.2" y2="1832.1" stroke="#000" stroke-width="3.9"/>
<text x="644.38" y="1840.96" font-size="24.51" text-anchor="end" font-weight="bold" fill="#000">0</text>
<line x1="648.2" y1="1732.6" x2="662.2" y2="1732.6" stroke="#000" stroke-width="3.9"/>
<text x="644.38" y="1741.46" font-size="24.51" text-anchor="end" font-weight="bold" fill="#000">1</text>
<line x1="648.2" y1="1633.1" x2="662.2" y2="1633.1" stroke="#000" stroke-width="3.9"/>
<text x="644.38" y="1641.96" font-size="24.51" text-anchor="end" font-weight="bold" fill="#000">2</text>
<line x1="648.2" y1="1533.6" x2="662.2" y2="1533.6" stroke="#000" stroke-width="3.9"/>
<text x="644.38" y="1542.46" font-size="24.51" text-anchor="end" font-weight="bold" fill="#000">3</text>
<line x1="648.2" y1="1434.1" x2="662.2" y2="1434.1" stroke="#000" stroke-width="3.9"/>
<text x="644.38" y="1442.96" font-size="24.51" text-anchor="end" font-weight="bold" fill="#000">4</text>
<line x1="648.2" y1="1334.6" x2="662.2" y2="1334.6" stroke="#000" stroke-width="3.9"/>
<text x="644.38" y="1343.46" font-size="24.51" text-anchor="end" font-weight="bold" fill="#000">5</text>
<line x1="781.8" y1="1832.1" x2="781.8" y2="1845.1" stroke="#000" stroke-width="3.9"/>
<text x="791" y="1867" font-size="25.23" text-anchor="end" font-weight="bold" fill="#000" transform="rotate(-45 791 1867)">MITF</text>
<line x1="1002.3" y1="1832.1" x2="1002.3" y2="1845.1" stroke="#000" stroke-width="3.9"/>
<text x="1011" y="1867" font-size="25.23" text-anchor="end" font-weight="bold" fill="#000" transform="rotate(-45 1011 1867)">TYR</text>
<line x1="1223.6" y1="1832.1" x2="1223.6" y2="1845.1" stroke="#000" stroke-width="3.9"/>
<text x="1231" y="1867" font-size="25.23" text-anchor="end" font-weight="bold" fill="#000" transform="rotate(-45 1231 1867)">TRP-1</text>
<line x1="1443.6" y1="1832.1" x2="1443.6" y2="1845.1" stroke="#000" stroke-width="3.9"/>
<text x="1451" y="1867" font-size="25.23" text-anchor="end" font-weight="bold" fill="#000" transform="rotate(-45 1451 1867)">DCT</text>
<text x="616.5" y="1580.7" font-size="25.7" text-anchor="middle" font-weight="bold" fill="#000" transform="rotate(-90 616.5 1580.7)">Relative expression/&#946;-actin</text>
<rect x="1559.7" y="1446.3" width="29.87" height="14.94" fill="#ffffff" stroke="#000" stroke-width="2.6"/>
<text x="1610" y="1462" font-size="25.34" font-weight="bold">Control</text>
<rect x="1559.7" y="1489.3" width="29.87" height="14.94" fill="#d4d4d4" stroke="#000" stroke-width="2.6"/>
<text x="1610" y="1505" font-size="25.34" font-weight="bold">8-MOP 50 <tspan font-family="'Liberation Serif', serif" font-weight="normal" font-size="28.84">&#956;</tspan>M</text>
<rect x="1559.7" y="1531.8" width="29.87" height="14.94" fill="#808080" stroke="#000" stroke-width="2.6"/>
<text x="1610" y="1547.5" font-size="25.34" font-weight="bold">IAI 0.625 <tspan font-family="'Liberation Serif', serif" font-weight="normal" font-size="28.84">&#956;</tspan>M</text>
<rect x="1559.7" y="1574.8" width="29.87" height="14.94" fill="#626262" stroke="#000" stroke-width="2.6"/>
<text x="1610" y="1590.5" font-size="25.34" font-weight="bold">IAI 2.5 <tspan font-family="'Liberation Serif', serif" font-weight="normal" font-size="28.84">&#956;</tspan>M</text>
<rect x="1559.7" y="1618.3" width="29.87" height="14.94" fill="#353535" stroke="#000" stroke-width="2.6"/>
<text x="1610" y="1634" font-size="25.34" font-weight="bold">IAI 5 <tspan font-family="'Liberation Serif', serif" font-weight="normal" font-size="28.84">&#956;</tspan>M</text>
</svg></body></html>
